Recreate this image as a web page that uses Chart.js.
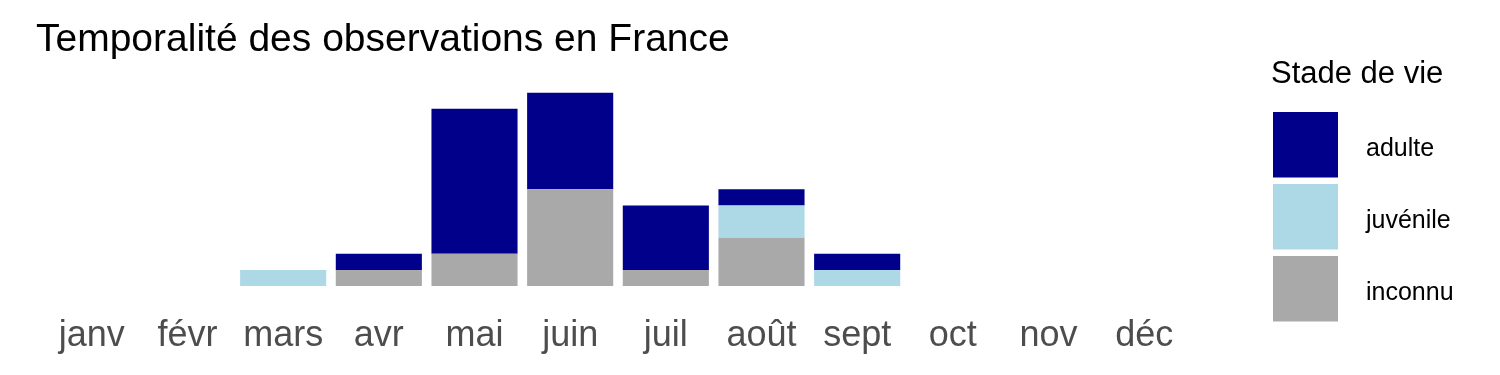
<!DOCTYPE html>
<html lang="fr">
<head>
<meta charset="UTF-8">
<title>Temporalité des observations en France</title>
<script src="https://cdn.jsdelivr.net/npm/chart.js"></script>
<style>
  body { margin: 0; background: #fff; }
  #wrap { width: 1500px; height: 375px; }
</style>
</head>
<body>
<div id="wrap"><canvas id="c"></canvas></div>
<script>
var months = ['janv', 'févr', 'mars', 'avr', 'mai', 'juin', 'juil', 'août', 'sept', 'oct', 'nov', 'déc'];
var inconnu  = [0, 0, 0, 1, 2, 6, 1, 3, 0, 0, 0, 0];
var juvenile = [0, 0, 1, 0, 0, 0, 0, 2, 1, 0, 0, 0];
var adulte   = [0, 0, 0, 1, 9, 6, 4, 1, 1, 0, 0, 0];

var FONT = '"Liberation Sans", Arial, sans-serif';

// titre + légende façon ggplot, dessinés à la main
var decor = {
  id: 'decor',
  afterDraw: function (chart) {
    var ctx = chart.ctx;
    ctx.save();
    ctx.fillStyle = '#000';
    ctx.textAlign = 'left';
    ctx.textBaseline = 'alphabetic';
    ctx.font = '39px ' + FONT;
    ctx.fillText('Temporalité des observations en France', 36, 51);

    ctx.font = '31px ' + FONT;
    ctx.fillText('Stade de vie', 1271, 83);

    var items = chart.data.datasets.slice().reverse();
    ctx.font = '25px ' + FONT;
    ctx.textBaseline = 'middle';
    items.forEach(function (ds, i) {
      var y = 112 + i * 72;
      ctx.fillStyle = ds.backgroundColor;
      ctx.fillRect(1273, y, 65, 65.5);
      ctx.fillStyle = '#000';
      ctx.fillText(ds.label, 1366, y + 37);
    });
    ctx.restore();
  }
};

new Chart(document.getElementById('c'), {
  type: 'bar',
  data: {
    labels: months,
    datasets: [
      { label: 'inconnu', data: inconnu, backgroundColor: '#A9A9A9' },
      { label: 'juvénile', data: juvenile, backgroundColor: '#ADD8E6' },
      { label: 'adulte', data: adulte, backgroundColor: '#00008B' }
    ]
  },
  options: {
    responsive: true,
    maintainAspectRatio: false,
    animation: false,
    layout: { padding: { top: 83, left: 44, right: 308, bottom: 0 } },
    datasets: { bar: { categoryPercentage: 1, barPercentage: 0.9, borderWidth: 0 } },
    plugins: { legend: { display: false }, tooltip: { enabled: false }, title: { display: false } },
    scales: {
      x: {
        stacked: true,
        grid: { display: false, drawTicks: false },
        border: { display: false },
        ticks: { color: '#4d4d4d', font: { size: 36, family: FONT }, padding: 28, maxRotation: 0, autoSkip: false },
        afterFit: function (s) { s.height = 89; }
      },
      y: {
        stacked: true,
        display: false,
        min: 0,
        max: 12.6
      }
    }
  },
  plugins: [decor]
});
</script>
</body>
</html>
